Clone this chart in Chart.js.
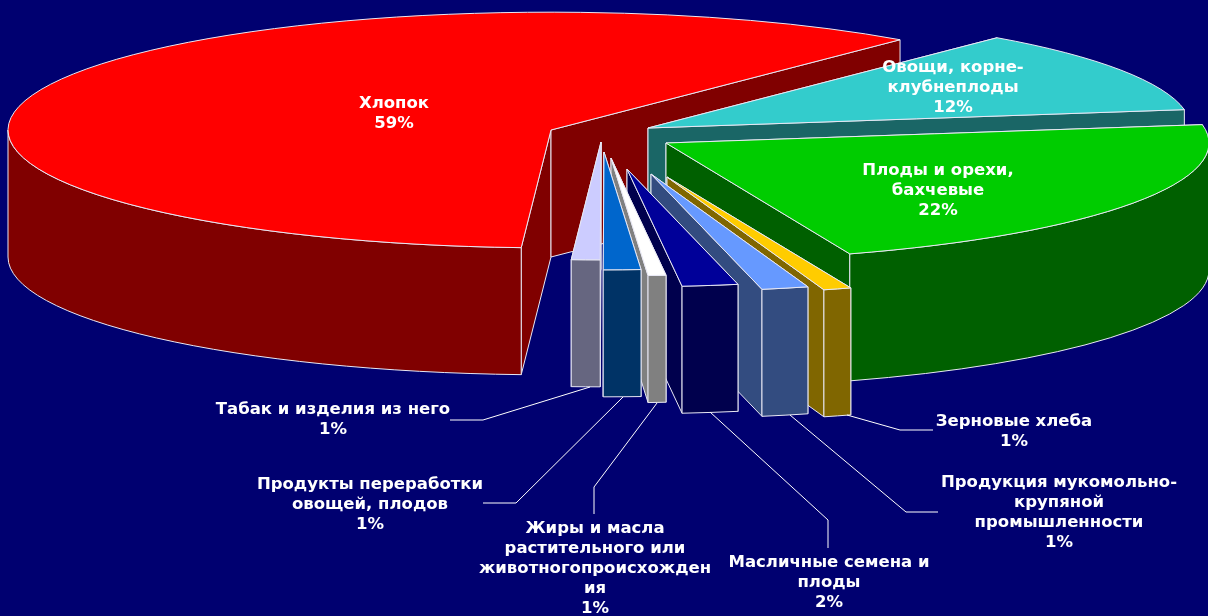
<!DOCTYPE html>
<html lang="ru">
<head>
<meta charset="utf-8">
<title>Структура экспорта</title>
<script src="https://cdn.jsdelivr.net/npm/chart.js@4"></script>
<style>
  html, body { margin: 0; padding: 0; background: #000070; overflow: hidden; }
  canvas { display: block; }
</style>
</head>
<body>
<canvas id="grafico" width="1208" height="616"></canvas>
<script>
// slice order is clockwise from the top-right edge of the red slice
const categorias = [
    "Овощи, корнеклубнеплоды",
    "Плоды и орехи, бахчевые",
    "Зерновые хлеба",
    "Продукция мукомольно-крупяной промышленности",
    "Масличные семена и плоды",
    "Жиры и масла растительного или животного происхождения",
    "Продукты переработки овощей, плодов",
    "Табак и изделия из него",
    "Хлопок"
];

// share of each slice as it is drawn in the picture
const valores = [11.4, 22.0, 0.83, 1.39, 1.66, 0.53, 1.11, 0.85, 60.25];

// percentages as printed on the labels
const percentuais = [12, 22, 1, 1, 2, 1, 1, 1, 59];

const linhasRotulo = [
    ["Овощи, корне-", "клубнеплоды"],
    ["Плоды и орехи,", "бахчевые"],
    ["Зерновые хлеба"],
    ["Продукция мукомольно-", "крупяной", "промышленности"],
    ["Масличные семена и", "плоды"],
    ["Жиры и масла", "растительного или", "животногопроисхожден", "ия"],
    ["Продукты переработки", "овощей, плодов"],
    ["Табак и изделия из него"],
    ["Хлопок"]
];

const coresTopo = ["#33cccc", "#00cc00", "#ffcc00", "#6699ff", "#000099", "#ffffff", "#0066cc", "#ccccff", "#ff0000"];
const coresParede = ["#1a6666", "#006000", "#806600", "#334c80", "#00004d", "#808080", "#003366", "#666680", "#800000"];

// layout of the 3D look
const achatamento = 0.217;
const profundidade = 127;
const raio = 543;
const deslocamentos = [[45, -8], [63, 7], [64, 41], [48, 38], [24, 33], [8, 22], [1, 16], [-2, 6], [-52, -6]];
const ordemDesenho = [8, 0, 1, 2, 3, 4, 5, 6, 7];
const corBorda = "#e8e8f4";

const posRotulos = [[953, 68], [938, 171], [1014, 422], [1059, 483], [829, 563], [595, 529], [370, 485], [333, 410], [394, 104]];
const guias = [
    [],
    [],
    [[933, 430], [900, 430], [847, 415]],
    [[938, 512], [906, 512], [790, 415]],
    [[828, 548], [828, 520], [710, 412]],
    [[594, 514], [594, 487], [657, 403]],
    [[483, 503], [516, 503], [623, 397]],
    [[450, 420], [483, 420], [590, 387]],
    []
];

function desenharFatia(ctx, arc, i) {

    const cx = arc.x + deslocamentos[i][0];
    const cy = arc.y + deslocamentos[i][1];
    const r = arc.outerRadius;
    const a0 = arc.startAngle;
    const a1 = arc.endAngle;

    const px = a => cx + Math.cos(a) * r;
    const py = a => cy + Math.sin(a) * r * achatamento;

    ctx.save();
    ctx.strokeStyle = corBorda;
    ctx.lineWidth = 1;
    ctx.lineJoin = "round";
    ctx.fillStyle = coresParede[i];

    // cut faces
    [a0, a1].forEach(a => {
        ctx.beginPath();
        ctx.moveTo(cx, cy);
        ctx.lineTo(px(a), py(a));
        ctx.lineTo(px(a), py(a) + profundidade);
        ctx.lineTo(cx, cy + profundidade);
        ctx.closePath();
        ctx.fill();
        ctx.stroke();
    });

    // outer wall, only the part turned to the viewer
    const TAU = Math.PI * 2;
    [0, TAU].forEach(base => {
        const ini = Math.max(a0, base);
        const fim = Math.min(a1, base + Math.PI);
        if (fim <= ini) return;
        ctx.beginPath();
        ctx.ellipse(cx, cy, r, r * achatamento, 0, ini, fim);
        ctx.lineTo(px(fim), py(fim) + profundidade);
        ctx.ellipse(cx, cy + profundidade, r, r * achatamento, 0, fim, ini, true);
        ctx.closePath();
        ctx.fill();
        ctx.stroke();
    });

    // top face, drawn by the arc element itself
    ctx.save();
    ctx.translate(cx, cy);
    ctx.scale(1, achatamento);
    ctx.translate(-arc.x, -arc.y);
    arc.draw(ctx);
    ctx.restore();

    ctx.beginPath();
    ctx.moveTo(cx, cy);
    ctx.ellipse(cx, cy, r, r * achatamento, 0, a0, a1);
    ctx.closePath();
    ctx.stroke();
    ctx.restore();
}

const pizza3d = {
    id: "pizza3d",
    beforeDraw(chart) {
        const ctx = chart.ctx;
        ctx.save();
        ctx.fillStyle = "#000070";
        ctx.fillRect(0, 0, chart.width, chart.height);
        ctx.restore();
    },
    beforeDatasetDraw(chart, args) {
        const ctx = chart.ctx;
        ordemDesenho.forEach(i => desenharFatia(ctx, args.meta.data[i], i));
        return false;
    },
    afterDraw(chart) {
        const ctx = chart.ctx;
        ctx.save();

        ctx.strokeStyle = "#ffffff";
        ctx.lineWidth = 1;
        guias.forEach(guia => {
            if (!guia.length) return;
            ctx.beginPath();
            guia.forEach((p, k) => k ? ctx.lineTo(p[0], p[1]) : ctx.moveTo(p[0], p[1]));
            ctx.stroke();
        });

        ctx.fillStyle = "#ffffff";
        ctx.font = "bold 16.5px 'DejaVu Sans'";
        ctx.textAlign = "center";
        ctx.textBaseline = "middle";
        linhasRotulo.forEach((linhas, i) => {
            const [x, y] = posRotulos[i];
            linhas.concat(percentuais[i] + "%").forEach((t, k) => {
                ctx.fillText(t, x, y + k * 20);
            });
        });
        ctx.restore();
    }
};

new Chart(document.getElementById("grafico"), {
    type: "pie",
    plugins: [pizza3d],
    data: {
        labels: categorias,
        datasets: [{
            data: valores,
            backgroundColor: coresTopo,
            borderWidth: 0,
            clip: false
        }]
    },
    options: {
        responsive: false,
        animation: false,
        rotation: 40,
        radius: raio,
        layout: { padding: { bottom: 344, right: 2 } },
        plugins: {
            legend: { display: false },
            tooltip: { enabled: false }
        }
    }
});
</script>
</body>
</html>
